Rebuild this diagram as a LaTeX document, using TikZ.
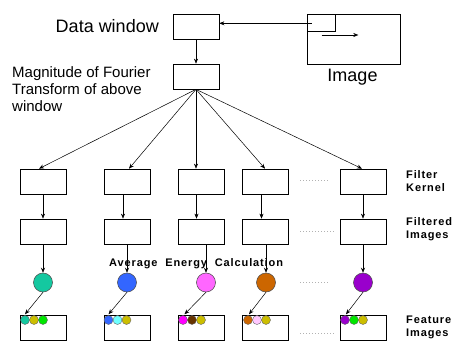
\documentclass[tikz,border=0pt]{standalone}
\usepackage{fontspec}
\setmainfont{Liberation Sans}
\newfontfamily\lblfont[LetterSpace=8]{Liberation Sans}
\usetikzlibrary{arrows.meta}
\definecolor{cteal}{RGB}{20,200,160}
\definecolor{cblue}{RGB}{51,102,255}
\definecolor{cpink}{RGB}{255,102,255}
\definecolor{corange}{RGB}{204,102,0}
\definecolor{cpurple}{RGB}{153,0,204}
\definecolor{colive}{RGB}{204,190,0}
\definecolor{cgreen}{RGB}{0,230,0}
\definecolor{ccyan}{RGB}{110,255,255}
\definecolor{cmagenta}{RGB}{255,0,255}
\definecolor{cbrown}{RGB}{102,51,0}
\definecolor{clpink}{RGB}{255,200,255}
\begin{document}
\begin{tikzpicture}[x=1pt,y=-1pt,
  box/.style={draw,line width=0.7pt,minimum width=46pt,minimum height=25pt,inner sep=0pt},
  big/.style={circle,draw=black!70,line width=0.5pt,minimum size=19pt,inner sep=0pt},
  sm/.style={circle,draw=black!60,line width=0.4pt,minimum size=9pt,inner sep=0pt},
  arr/.style={-{Stealth[length=5pt,width=4pt]},line width=0.5pt},
  dots/.style={gray!60,line width=1pt,dash pattern=on 1pt off 2pt},
  side/.style={font=\lblfont\bfseries\fontsize{11}{13}\selectfont,align=left,anchor=north west,inner sep=0pt},
]
\path[use as bounding box,fill=white] (0,0) rectangle (453,342);

% top part
\node[box] (dw) at (196,26.5) {};
\node[box] (mag) at (196,76.5) {};
\node[draw,line width=0.7pt,minimum width=93pt,minimum height=50pt,inner sep=0pt] (img) at (353.5,39) {};
\node[draw,line width=0.7pt,minimum width=28pt,minimum height=17pt,inner sep=0pt,anchor=north west] (win) at (img.north west) {};
\coordinate (m1) at (321.7,35);
\coordinate (m2) at (358.3,35);
\draw[arr] (m1) -- (m2);
\coordinate (wst) at ([xshift=5pt,yshift=-0.8pt]win.west);
\draw[arr] (wst) -- (dw.east |- wst);
\draw[arr] (dw.south) -- (mag.north);

\node[font=\fontsize{18}{20}\selectfont,anchor=base east,inner sep=0pt] (tdw) at (159,32.7) {Data window};
\node[font=\fontsize{18}{20}\selectfont,anchor=base,inner sep=0pt] (timg) at (352.5,82) {Image};
\node[font=\fontsize{15}{17}\selectfont,align=left,anchor=north west,inner sep=0pt] (tmag) at (12,66) {Magnitude of Fourier\\Transform of above\\window};

% rows of boxes
\foreach \i/\x in {1/43,2/127,3/201,4/265,5/363} {
  \node[box] (k\i) at (\x,181.5) {};
  \node[box] (f\i) at (\x,231.5) {};
  \node[box] (e\i) at (\x,328) {};
}
\foreach \i/\x/\c in {1/43/cteal,2/127/cblue,3/206/cpink,4/266/corange,5/363/cpurple}
  \node[big,fill=\c] (c\i) at (\x,282.5) {};

\foreach \i/\x/\a/\b/\c in {1/25/cteal/colive/cgreen,2/108.5/cblue/ccyan/colive,3/183/cmagenta/cbrown/colive,4/248/corange/clpink/colive,5/345/cpurple/cgreen/colive} {
  \node[sm,fill=\a] (s\i a) at (\x,320) {};
  \node[sm,fill=\b] (s\i b) at (\x+9,320) {};
  \node[sm,fill=\c] (s\i c) at (\x+18,320) {};
}

% fan arrows
\foreach \i/\d in {1/-4,2/2,3/-5,4/0,5/-1}
  \draw[arr] (mag.south) -- ([xshift=\d pt]k\i.north);
% kernel -> filtered
\foreach \i/\d in {1/0,2/-4,3/-4.5,4/-3.5,5/0}
  \draw[arr] ([xshift=\d pt]k\i.south) -- ([xshift=\d pt]f\i.north);
% filtered -> energy
\foreach \i/\d in {1/0,2/0,3/5,4/1,5/0}
  \draw[arr] ([xshift=\d pt]f\i.south) -- (c\i.north);
% energy -> feature
\foreach \i/\d in {1/0,2/0,3/1.5,4/1,5/1}
  \draw[arr] (c\i.south) -- ([xshift=\d pt,yshift=1pt]s\i a.north);

% dotted continuation marks
\draw[dots] (300,181) -- (328,181);
\draw[dots] (300,231.5) -- (334,231.5);
\draw[dots] (300,282) -- (330,282);
\draw[dots] (300,333) -- (335,333);

% labels
\node[side] (lk) at (406,170.6) {Filter\\Kernel};
\node[side] (lf) at (406,217.1) {Filtered\\Images};
\node[side] (lfe) at (406,316.1) {Feature\\Images};
\node[font=\lblfont\bfseries\fontsize{11}{13}\selectfont,anchor=base west,inner sep=0pt] (lavg) at (109,266) {Average~~Energy~~Calculation};
\end{tikzpicture}
\end{document}
